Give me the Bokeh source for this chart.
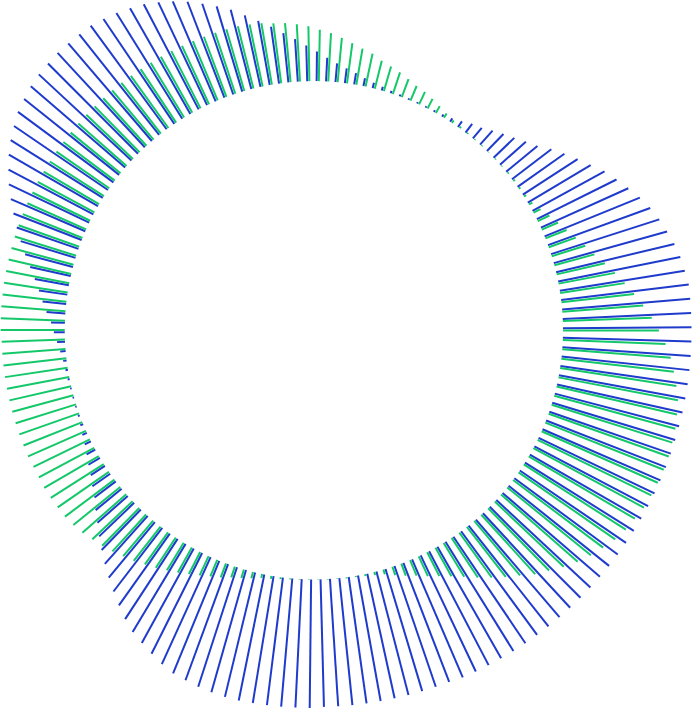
import numpy as np
from bokeh.plotting import figure
from bokeh.models import Range1d, ColumnDataSource
from bokeh.embed import file_html
from bokeh.resources import INLINE

# ---- data (one spoke per category, counter-clockwise from the right) ----
categories = list(range(166))

blue_values = (
    [130, 130, 130, 130]
    + [128, 126, 123, 119, 115, 110, 104, 97, 90, 83, 74, 66, 58, 50, 41, 35, 29, 24, 19, 14, 11]
    + [7, 4, 2.5, 2, 1.5, 1.5, 1.5, 2, 2.5]
    + [4, 5.5, 8, 11.5, 15, 19, 24, 30, 36, 43, 50, 58, 66, 74, 83, 90, 97, 104, 110, 115, 120, 123, 126, 128, 130]
    + [130, 130, 130]
    + [129, 128, 126, 123, 120, 115, 110, 104, 97, 90, 82, 74, 66, 58, 50, 42, 35, 29, 24, 19,
       14, 11, 8, 5.5, 3.5, 2.5, 2, 1.5, 1.5, 1.5, 2, 3]
    + [5, 7, 10, 13.5, 17, 22, 27, 34, 41, 49, 57, 65, 73, 81, 89, 97, 104, 109, 114, 119, 123, 125, 127, 128.5, 129.5]
    + [130, 130, 130, 130, 130, 130, 129, 129, 129, 129, 129, 129, 129, 129, 129, 129, 130, 130, 130, 130,
       130, 130, 130, 130, 130, 130, 130, 130, 130, 130, 130, 130, 130, 130, 130, 130, 130, 130, 130, 130,
       130, 130, 130, 130, 130, 130, 130]
)

green_values = (
    [97, 90, 82, 74, 66, 58, 50, 42, 35.5, 29, 23, 18, 13]
    + [8, 4, 2.5, 2, 2, 1.5, 1, 1, 0.5, 1, 1, 1.5]
    + [2, 3, 5, 8, 11, 14, 16, 19.5, 23, 26, 29, 34, 37, 41, 45, 49, 52, 55.5, 58, 60, 61, 63, 64, 65]
    + [65, 65, 65, 65, 65, 65, 65, 65, 65, 65, 65, 65, 65, 65, 65, 65, 65, 65, 65, 65,
       65, 65, 65, 65, 65, 65, 65, 65, 65, 65, 65, 65, 65, 65, 65, 64, 64, 64, 64, 64,
       64, 64, 64]
    + [64, 64, 64, 63.5, 63.5, 64, 63.5, 63, 62.5, 61, 59, 56, 53.5, 50.5, 47, 44, 40, 36.5, 32.5, 29,
       25, 21.5, 18, 15, 11.5, 9, 6.5, 4, 3, 2, 1]
    + [0.5, 0.5, 0.5, 0.5, 0.5, 1, 1]
    + [2, 3, 5, 9, 13, 17, 22, 27, 33, 40, 48, 56, 64, 72, 81, 88, 96, 103, 109, 114,
       119, 122.5, 124.5, 127, 128, 128.5, 129, 129, 128, 127, 125, 123, 119, 114.5, 110, 104]
)

# ---- geometry / style ----
N = len(categories)
INNER = 252.0
STEP = 360.0 / N
BLUE_SHIFT = 0.45
GREEN_SHIFT = -0.05
BLUE = "#1f3bcc"
GREEN = "#14c86a"

idx = np.arange(N)


def spokes(values, shift):
    ang = np.deg2rad(shift + STEP * idx)
    v = np.asarray(values, dtype=float)
    return ColumnDataSource(dict(
        x0=INNER * np.cos(ang), y0=INNER * np.sin(ang),
        x1=(INNER + v) * np.cos(ang), y1=(INNER + v) * np.sin(ang),
    ))


p = figure(width=692, height=708,
           x_range=Range1d(-317, 383), y_range=Range1d(-382.5, 333.5),
           output_backend="svg", toolbar_location=None, min_border=0)
p.axis.visible = False
p.grid.visible = False
p.outline_line_color = None
p.background_fill_color = "white"
p.border_fill_color = "white"

p.segment("x0", "y0", "x1", "y1", source=spokes(blue_values, BLUE_SHIFT),
          line_color=BLUE, line_width=2)
p.segment("x0", "y0", "x1", "y1", source=spokes(green_values, GREEN_SHIFT),
          line_color=GREEN, line_width=2)

open("out.html", "w").write(file_html(p, INLINE))
